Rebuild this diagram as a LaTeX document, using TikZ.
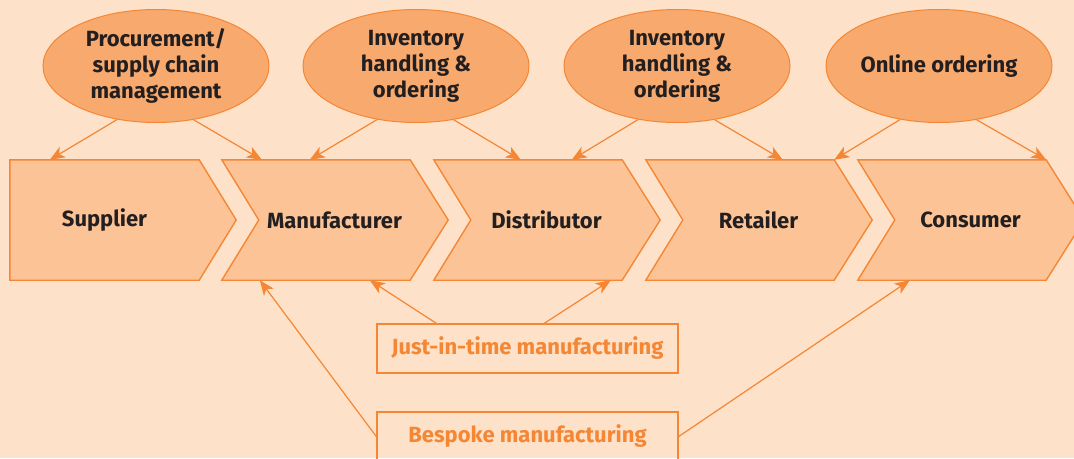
\documentclass[tikz,border=0pt]{standalone}
\usepackage{fontspec}
\setmainfont{Fira Sans}
\usetikzlibrary{arrows.meta,calc,shapes.geometric}

% Colours
\definecolor{r253g225b200}{RGB}{253,225,200}% page
\definecolor{r252g196b150}{RGB}{252,196,150}% stages
\definecolor{r248g170b110}{RGB}{248,170,110}% activities
\definecolor{r245g134b52}{RGB}{245,134,52}% lines
\definecolor{r35g31b32}{RGB}{35,31,32}% text

\pgfdeclarelayer{bg}
\pgfsetlayers{bg,main}

\tikzset{
  stage/.style={inner sep=0pt, minimum width=151pt, minimum height=120pt,
    text=r35g31b32, font=\fontsize{22}{26}\selectfont\bfseries},
  stageshape/.style={draw=r245g134b52, fill=r252g196b150, line width=1.4pt, line join=miter},
  activity/.style={ellipse, draw=r245g134b52, fill=r248g170b110, line width=1pt,
    inner sep=0pt, minimum width=226pt, minimum height=113pt, align=center,
    text=r35g31b32, font=\fontsize{22}{26}\selectfont\bfseries},
  mode/.style={draw=r245g134b52, line width=1.4pt, inner sep=0pt,
    minimum width=301pt, minimum height=49pt,
    text=r245g134b52, font=\fontsize{22}{26}\selectfont\bfseries},
  link/.style={draw=r245g134b52, line width=1.2pt,
    -{Stealth[length=15pt,width=12pt,inset=4pt]}}
}

\begin{document}
\begin{tikzpicture}[x=1pt,y=-1pt]
  \useasboundingbox (0,0) rectangle (1074,458);
  \clip (0,0) rectangle (1074,458);

  % Stages of the chain
  \node[stage, minimum width=189pt] (sup) at (104.5,220) {Supplier};
  \foreach \n/\x/\t in {man/222/Manufacturer, dis/434/Distributor,
                        ret/646/Retailer, con/858/Consumer}
    \node[stage] (\n) at (\x+112.5,220) {\t};

  % Activities above the chain
  \node[activity] (proc) at (156,66) {Procurement/\\supply chain\\management};
  \node[activity] (invm) at (416,66) {Inventory\\handling \&\\ordering};
  \node[activity] (invd) at (677,66) {Inventory\\handling \&\\ordering};
  \node[activity] (onl)  at (939,66) {Online ordering};

  % Manufacturing modes below
  \node[mode] (jit) at (527.5,348.5) {Just-in-time manufacturing};
  \node[mode] (besp) at (527.5,436.5) {Bespoke manufacturing};

  \begin{pgfonlayer}{bg}
    % Page
    \fill[r253g225b200] (0,0) rectangle (1074,458);
    % Drawing stage arrows
    \draw[stageshape] (sup.north west) -- (sup.north east) -- ($(sup.east)+(37,0)$)
      -- (sup.south east) -- (sup.south west) -- cycle;
    \foreach \n in {man,dis,ret,con}
      \draw[stageshape] ($(\n.north west)+(-37,0)$) -- (\n.north east)
        -- ($(\n.east)+(38,0)$) -- (\n.south east)
        -- ($(\n.south west)+(-37,0)$) -- (\n.west) -- cycle;
  \end{pgfonlayer}

  % Drawing links from activities
  \draw[link] (proc.234) -- ($(sup.north west)+(40,0)$);
  \draw[link] (proc.305) -- ($(man.north west)+(3,0)$);
  \draw[link] (invm.234) -- ($(man.north west)+(51,0)$);
  \draw[link] (invm.305) -- ($(dis.north west)+(50,0)$);
  \draw[link] (invd.234) -- ($(dis.north west)+(101,0)$);
  \draw[link] (invd.305) -- ($(ret.north west)+(100,0)$);
  \draw[link] (onl.234) -- (ret.north east);
  \draw[link] (onl.305) -- (con.north east);

  % Drawing links from manufacturing modes
  \draw[link] ($(jit.north west)+(60,0)$) -- ($(man.south west)+(111,0)$);
  \draw[link] ($(jit.north west)+(168,0)$) -- ($(dis.south west)+(140,0)$);
  \draw[link] (besp.west) -- ($(man.south west)+(1,0)$);
  \draw[link] (besp.east) -- ($(con.south west)+(15,0)$);
\end{tikzpicture}
\end{document}
